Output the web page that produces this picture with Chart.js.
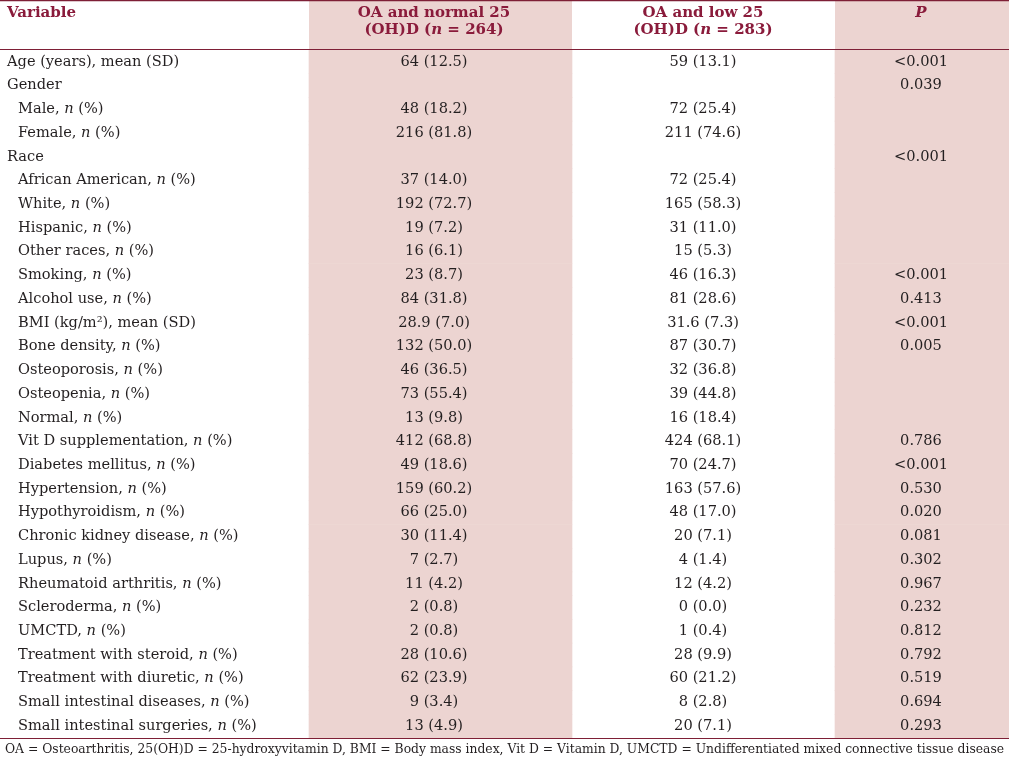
<!DOCTYPE html>
<html>
<head>
<meta charset="utf-8">
<script src="https://cdn.jsdelivr.net/npm/chart.js@4.4.1/dist/chart.umd.min.js"></script>
<style>
  html, body { margin: 0; padding: 0; background: #fff; }
</style>
</head>
<body>
<canvas id="table" width="1009" height="759"></canvas>
<script>
// row labels, *...* marks italic
const variables = [
    'Age (years), mean (SD)', 'Gender', 'Male, *n* (%)', 'Female, *n* (%)', 'Race',
    'African American, *n* (%)', 'White, *n* (%)', 'Hispanic, *n* (%)', 'Other races, *n* (%)',
    'Smoking, *n* (%)', 'Alcohol use, *n* (%)', 'BMI (kg/m\u00b2), mean (SD)', 'Bone density, *n* (%)',
    'Osteoporosis, *n* (%)', 'Osteopenia, *n* (%)', 'Normal, *n* (%)', 'Vit D supplementation, *n* (%)',
    'Diabetes mellitus, *n* (%)', 'Hypertension, *n* (%)', 'Hypothyroidism, *n* (%)',
    'Chronic kidney disease, *n* (%)', 'Lupus, *n* (%)', 'Rheumatoid arthritis, *n* (%)',
    'Scleroderma, *n* (%)', 'UMCTD, *n* (%)', 'Treatment with steroid, *n* (%)',
    'Treatment with diuretic, *n* (%)', 'Small intestinal diseases, *n* (%)',
    'Small intestinal surgeries, *n* (%)'
];
const topLevel = ['Age (years), mean (SD)', 'Gender', 'Race'];

// OA and normal 25(OH)D: count (or mean) and percent (or SD)
const normalN = [64, null, 48, 216, null, 37, 192, 19, 16, 23, 84, 28.9, 132, 46, 73, 13, 412,
    49, 159, 66, 30, 7, 11, 2, 2, 28, 62, 9, 13];
const normalPct = [12.5, null, 18.2, 81.8, null, 14.0, 72.7, 7.2, 6.1, 8.7, 31.8, 7.0, 50.0, 36.5, 55.4, 9.8, 68.8,
    18.6, 60.2, 25.0, 11.4, 2.7, 4.2, 0.8, 0.8, 10.6, 23.9, 3.4, 4.9];
// OA and low 25(OH)D
const lowN = [59, null, 72, 211, null, 72, 165, 31, 15, 46, 81, 31.6, 87, 32, 39, 16, 424,
    70, 163, 48, 20, 4, 12, 0, 1, 28, 60, 8, 20];
const lowPct = [13.1, null, 25.4, 74.6, null, 25.4, 58.3, 11.0, 5.3, 16.3, 28.6, 7.3, 30.7, 36.8, 44.8, 18.4, 68.1,
    24.7, 57.6, 17.0, 7.1, 1.4, 4.2, 0.0, 0.4, 9.9, 21.2, 2.8, 7.1];
const pValues = ['<0.001', '0.039', '', '', '<0.001', '', '', '', '', '<0.001', '0.413', '<0.001', '0.005',
    '', '', '', '0.786', '<0.001', '0.530', '0.020', '0.081', '0.302', '0.967', '0.232', '0.812',
    '0.792', '0.519', '0.694', '0.293'];

const headers = [
    ['Variable'],
    ['OA and normal 25', '(OH)D (*n* = 264)'],
    ['OA and low 25', '(OH)D (*n* = 283)'],
    ['*P*']
];
const footnote = 'OA = Osteoarthritis, 25(OH)D = 25-hydroxyvitamin D, BMI = Body mass index, Vit D = Vitamin D, UMCTD = Undifferentiated mixed connective tissue disease';

// layout (x in pixel units of the linear x scale)
const W = 1009;
const COLS = {
    normal: [309, 572],
    low: [572, 835],
    p: [835, 1009]
};
const TEXT_X = { variable: 7, indent: 18, normal: 434, low: 703, p: 921 };
const FAMILY = '"DejaVu Serif", "Liberation Serif", serif';
const BODY_SIZE = 14.6;
const HEAD_SIZE = 15;
const SHADE = '#ecd4d1';
const HEAD_RED = '#8a1b3b';
const RULE = '#7e1f36';
const INK = '#231f20';

function fmt(n, s) {
    if (n === null) return '';
    return String(n) + ' (' + s.toFixed(1) + ')';
}

function drawRich(ctx, str, x, y, align, size, bold, color) {
    const parts = str.split('*').map((t, i) => ({ t, it: i % 2 === 1 }));
    const font = it => `${it ? 'italic ' : ''}${bold ? 'bold ' : ''}${size}px ${FAMILY}`;
    let w = 0;
    parts.forEach(p => {
        ctx.font = font(p.it);
        p.w = ctx.measureText(p.t).width;
        w += p.w;
    });
    let cx = align === 'center' ? x - w / 2 : x;
    ctx.textAlign = 'left';
    ctx.textBaseline = 'middle';
    ctx.fillStyle = color;
    parts.forEach(p => {
        ctx.font = font(p.it);
        ctx.fillText(p.t, cx, y);
        cx += p.w;
    });
}

const tablePlugin = {
    id: 'tableText',
    beforeDatasetsDraw(chart) {
        const { ctx, chartArea, scales: { x } } = chart;
        ctx.save();
        ctx.fillStyle = SHADE;
        [COLS.normal, COLS.p].forEach(c => {
            const x0 = x.getPixelForValue(c[0]);
            const x1 = x.getPixelForValue(c[1]);
            ctx.fillRect(x0, 0, x1 - x0, chartArea.top);
        });
        ctx.restore();
    },
    afterDatasetsDraw(chart) {
        const { ctx, chartArea, scales: { x, y } } = chart;
        ctx.save();

        // rules
        ctx.strokeStyle = RULE;
        ctx.lineWidth = 1.2;
        [0.6, chartArea.top - 0.5, chartArea.bottom + 0.5].forEach(py => {
            ctx.beginPath();
            ctx.moveTo(x.getPixelForValue(0), py);
            ctx.lineTo(x.getPixelForValue(W), py);
            ctx.stroke();
        });

        // header
        const hx = [
            [x.getPixelForValue(TEXT_X.variable), 'left'],
            [x.getPixelForValue(TEXT_X.normal), 'center'],
            [x.getPixelForValue(TEXT_X.low), 'center'],
            [x.getPixelForValue(TEXT_X.p), 'center']
        ];
        headers.forEach((lines, i) => {
            lines.forEach((line, j) => {
                drawRich(ctx, line, hx[i][0], 13.5 + j * 17, hx[i][1], HEAD_SIZE, true, HEAD_RED);
            });
        });

        // body
        variables.forEach((label, i) => {
            const py = y.getPixelForValue(i);
            const lx = topLevel.includes(label) ? TEXT_X.variable : TEXT_X.indent;
            drawRich(ctx, label, x.getPixelForValue(lx), py, 'left', BODY_SIZE, false, INK);
            drawRich(ctx, fmt(normalN[i], normalPct[i]), x.getPixelForValue(TEXT_X.normal), py, 'center', BODY_SIZE, false, INK);
            drawRich(ctx, fmt(lowN[i], lowPct[i]), x.getPixelForValue(TEXT_X.low), py, 'center', BODY_SIZE, false, INK);
            drawRich(ctx, pValues[i], x.getPixelForValue(TEXT_X.p), py, 'center', BODY_SIZE, false, INK);
        });

        // footnote, sized to span the table width
        ctx.font = `10px ${FAMILY}`;
        const fw = ctx.measureText(footnote).width;
        const fsize = 10 * 1000 / fw;
        drawRich(ctx, footnote, x.getPixelForValue(W / 2), chartArea.bottom + 11.5, 'center', fsize, false, INK);

        ctx.restore();
    }
};

const labels = variables.map(v => v.replace(/\*/g, ''));

new Chart(document.getElementById('table'), {
    type: 'bar',
    data: {
        labels: labels,
        datasets: [
            {
                label: 'normal',
                data: labels.map(() => COLS.normal),
                backgroundColor: SHADE,
                borderWidth: 0,
                barPercentage: 1,
                categoryPercentage: 1,
                grouped: false
            },
            {
                label: 'p',
                data: labels.map(() => COLS.p),
                backgroundColor: SHADE,
                borderWidth: 0,
                barPercentage: 1,
                categoryPercentage: 1,
                grouped: false
            }
        ]
    },
    options: {
        indexAxis: 'y',
        responsive: false,
        animation: false,
        devicePixelRatio: 1,
        layout: { padding: { top: 50, bottom: 21, left: 0, right: 0 } },
        scales: {
            x: { type: 'linear', min: 0, max: W, display: false },
            y: { type: 'category', display: false, offset: true }
        },
        plugins: {
            legend: { display: false },
            tooltip: { enabled: false }
        }
    },
    plugins: [tablePlugin]
});
</script>
</body>
</html>
